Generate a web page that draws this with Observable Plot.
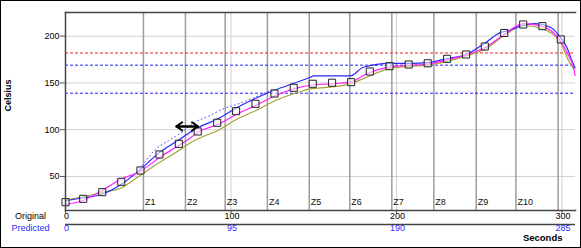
<!DOCTYPE html>
<html>
<head>
<meta charset="utf-8">
<script src="https://cdn.jsdelivr.net/npm/d3@7"></script>
<script src="https://cdn.jsdelivr.net/npm/@observablehq/plot@0.6"></script>
<style>
  html, body { margin: 0; padding: 0; background: white; }
  #chart svg { display: block; outline: 1px solid #000; outline-offset: -1px; }
</style>
</head>
<body>
<div id="chart"></div>
<script>
// ---- data (seconds, Celsius) ----
const markerT = [0, 10.7, 22.2, 33.7, 45.3, 56.8, 68.5, 79.9, 91.7, 103.1, 114.8, 126.3, 137.9, 149.4, 161.1, 172.6, 183.9, 195.8, 207.4, 218.9, 230.6, 242.1, 253.4, 265.1, 276.6, 288.2, 299.3];
const markerV = [22.5, 26.1, 33.2, 44.3, 56.4, 73.5, 84.9, 98.1, 107.4, 119.8, 127.7, 138.7, 144.8, 149.1, 150.2, 150.8, 162.2, 167.9, 169.7, 171, 175.8, 180.4, 188.9, 203.4, 212.5, 210.7, 196.5];

const blueT = [0, 10, 22, 34, 45, 57, 68, 76, 80, 92, 104, 115, 127, 138, 148, 150, 172, 180, 196, 208, 220, 230, 243, 253, 263, 268, 276, 284, 293, 299, 303, 306, 308];
const blueV = [24, 27, 31, 42, 57, 76, 88.5, 98, 102, 111.6, 124, 133.7, 142.7, 149.7, 156, 157.5, 157.5, 166.8, 171, 171, 172, 175.8, 181, 192, 204, 206, 211.4, 213.3, 209.6, 199, 188, 174, 166];

const magT = [0, 10, 22, 34, 45, 57, 68.5, 76, 80, 92, 104, 115, 127, 138, 148, 160, 172, 182, 195, 207, 220, 231, 242, 254, 265, 277, 288, 299, 304, 307, 308];
const magV = [20, 24, 35, 47.5, 55.3, 70.6, 83, 92, 97.3, 105.5, 117, 126, 136.6, 143.7, 147.5, 149, 150.8, 159.8, 166.8, 168.7, 170.5, 174.8, 180, 188.2, 201.8, 213.3, 210.4, 195.4, 179.4, 167, 158];

const olvT = [0, 10, 22, 34, 45, 57, 68.5, 76, 80, 92, 104, 115, 127, 138, 148, 160, 172, 182, 195, 207, 220, 231, 242, 254, 265, 277, 288, 299, 304, 307];
const olvV = [25, 28, 33, 38, 51, 65.2, 77.8, 86.6, 90.3, 99.1, 111.7, 120.5, 131.2, 138.4, 143.7, 145.5, 149, 156.1, 165.1, 167.6, 169.4, 173.3, 178.6, 186.5, 200.7, 211.4, 207.9, 193.6, 174, 165];

const bdotT = [45, 55, 62, 70, 78, 86, 95, 105, 115, 125];
const bdotV = [58, 80, 88, 97, 108, 114, 122, 128, 135, 143];

const pdotT = [50, 58, 66, 74, 82, 290, 296, 302, 306];
const pdotV = [66, 76, 87, 95, 101, 209, 200, 185, 170];

const zoneT = [47.1, 72.5, 96.5, 122, 147.3, 171.8, 197.2, 222.6, 248.2, 272.2];
const zoneLabels = ["Z1", "Z2", "Z3", "Z4", "Z5", "Z6", "Z7", "Z8", "Z9", "Z10"];
const endLineT = [297.7];

const redLimit = [182];
const blueLimits = [169, 139];

const yTicks = [50, 100, 150, 200];
const xGrid = [100, 200, 300];
const originalTicks = [0, 100, 200, 300];
const predictedLabels = ["0", "95", "190", "285"];

const arrowStart = [67, 80];
const arrowEnd = [80, 67];
const arrowV = [103.5, 103.5];

// ---- build tables ----
const toRows = (t, v) => t.map((x, i) => ({t: x, v: v[i]}));
const markers = toRows(markerT, markerV);
const blue = toRows(blueT, blueV);
const mag = toRows(magT, magV);
const olv = toRows(olvT, olvV);
const bdot = toRows(bdotT, bdotV);
const pdot1 = toRows(pdotT.slice(0, 5), pdotV.slice(0, 5));
const pdot2 = toRows(pdotT.slice(5), pdotV.slice(5));
const zones = zoneT.map((t, i) => ({t, label: zoneLabels[i]}));
const predicted = originalTicks.map((t, i) => ({t, label: predictedLabels[i]}));
const arrows = arrowStart.map((s, i) => ({x1: s, x2: arrowEnd[i], y: arrowV[i]}));

const font = "'Liberation Sans', Arial, sans-serif";

const chart = Plot.plot({
  width: 581,
  height: 248,
  marginLeft: 65,
  marginRight: 6,
  marginTop: 12,
  marginBottom: 38,
  style: {fontFamily: font, fontSize: "9px", background: "white", color: "black", overflow: "visible"},
  x: {domain: [0, 308.2], axis: null},
  y: {domain: [13.6, 225.3], axis: null},
  marks: [
    Plot.ruleY(yTicks, {stroke: "#d2d2d2", strokeWidth: 1}),
    Plot.ruleX(xGrid, {stroke: "#d2d2d2", strokeWidth: 1}),
    Plot.ruleX(zoneT, {stroke: "#9c9c9c", strokeWidth: 1.5}),
    Plot.ruleX(endLineT, {stroke: "#9c9c9c", strokeWidth: 1.5}),
    Plot.ruleY(redLimit, {stroke: "#ff2020", strokeDasharray: "3,2", strokeWidth: 1}),
    Plot.ruleY(blueLimits, {stroke: "#2020ff", strokeDasharray: "3,2", strokeWidth: 1}),
    Plot.text(zones, {x: "t", text: "label", frameAnchor: "bottom", dy: -6, dx: 1.5, textAnchor: "start", fill: "#111", fontSize: 9}),
    Plot.line(olv, {x: "t", y: "v", stroke: "#a3a33a", strokeWidth: 1.2, curve: "monotone-x"}),
    Plot.line(bdot, {x: "t", y: "v", stroke: "#5050ff", strokeWidth: 1, strokeDasharray: "1,3", curve: "monotone-x"}),
    Plot.line(pdot1, {x: "t", y: "v", stroke: "#ff80ff", strokeWidth: 1, strokeDasharray: "1,3", curve: "monotone-x"}),
    Plot.line(pdot2, {x: "t", y: "v", stroke: "#ff80ff", strokeWidth: 1, strokeDasharray: "1,3", curve: "monotone-x"}),
    Plot.line(blue, {x: "t", y: "v", stroke: "#2828ff", strokeWidth: 1.2, curve: "monotone-x"}),
    Plot.line(mag, {x: "t", y: "v", stroke: "#ff20ff", strokeWidth: 1.2, curve: "monotone-x"}),
    Plot.dot(markers, {x: "t", y: "v", symbol: "square", r: 4, stroke: "#222", strokeWidth: 1, fill: "white", fillOpacity: 0.55}),
    Plot.arrow(arrows, {x1: "x1", x2: "x2", y1: "y", y2: "y", stroke: "#000", strokeWidth: 2, headLength: 7, headAngle: 70}),
    Plot.frame({anchor: "top", stroke: "#444", strokeWidth: 1.5}),
    Plot.frame({anchor: "left", stroke: "#444", strokeWidth: 1.5}),
    Plot.frame({anchor: "bottom", stroke: "#444", strokeWidth: 1.5}),
    Plot.axisY({ticks: yTicks, tickSize: 5, tickPadding: 1, fontSize: 9, stroke: "#555"}),
    Plot.axisX({ticks: originalTicks, tickSize: 3, tickFormat: () => "", stroke: "#444"}),
    // bottom value rows
    Plot.text(originalTicks, {x: d => d, text: d => String(d), frameAnchor: "bottom", dy: 8, fill: "#000", fontSize: 9, dx: 1}),
    Plot.ruleY([13.6], {dy: 14, stroke: "#444", strokeWidth: 1.5}),
    Plot.text(predicted, {x: "t", text: "label", frameAnchor: "bottom", dy: 20, fill: "#2b2bff", fontSize: 9, dx: 1}),
    Plot.text(["Original"], {frameAnchor: "bottom-left", dx: -35, dy: 8, text: d => d, textAnchor: "middle", fill: "#000", fontSize: 9}),
    Plot.text(["Predicted"], {frameAnchor: "bottom-left", dx: -35, dy: 20, text: d => d, textAnchor: "middle", fill: "#2b2bff", fontSize: 9}),
    Plot.text(["Seconds"], {frameAnchor: "bottom-right", dx: -13, dy: 30, text: d => d, textAnchor: "end", fontWeight: "bold", fill: "#000", fontSize: 9.5}),
    Plot.text(["Celsius"], {frameAnchor: "left", dx: -57, text: d => d, rotate: -90, fontWeight: "bold", fill: "#000", fontSize: 9})
  ]
});
document.getElementById("chart").appendChild(chart);
</script>
</body>
</html>
